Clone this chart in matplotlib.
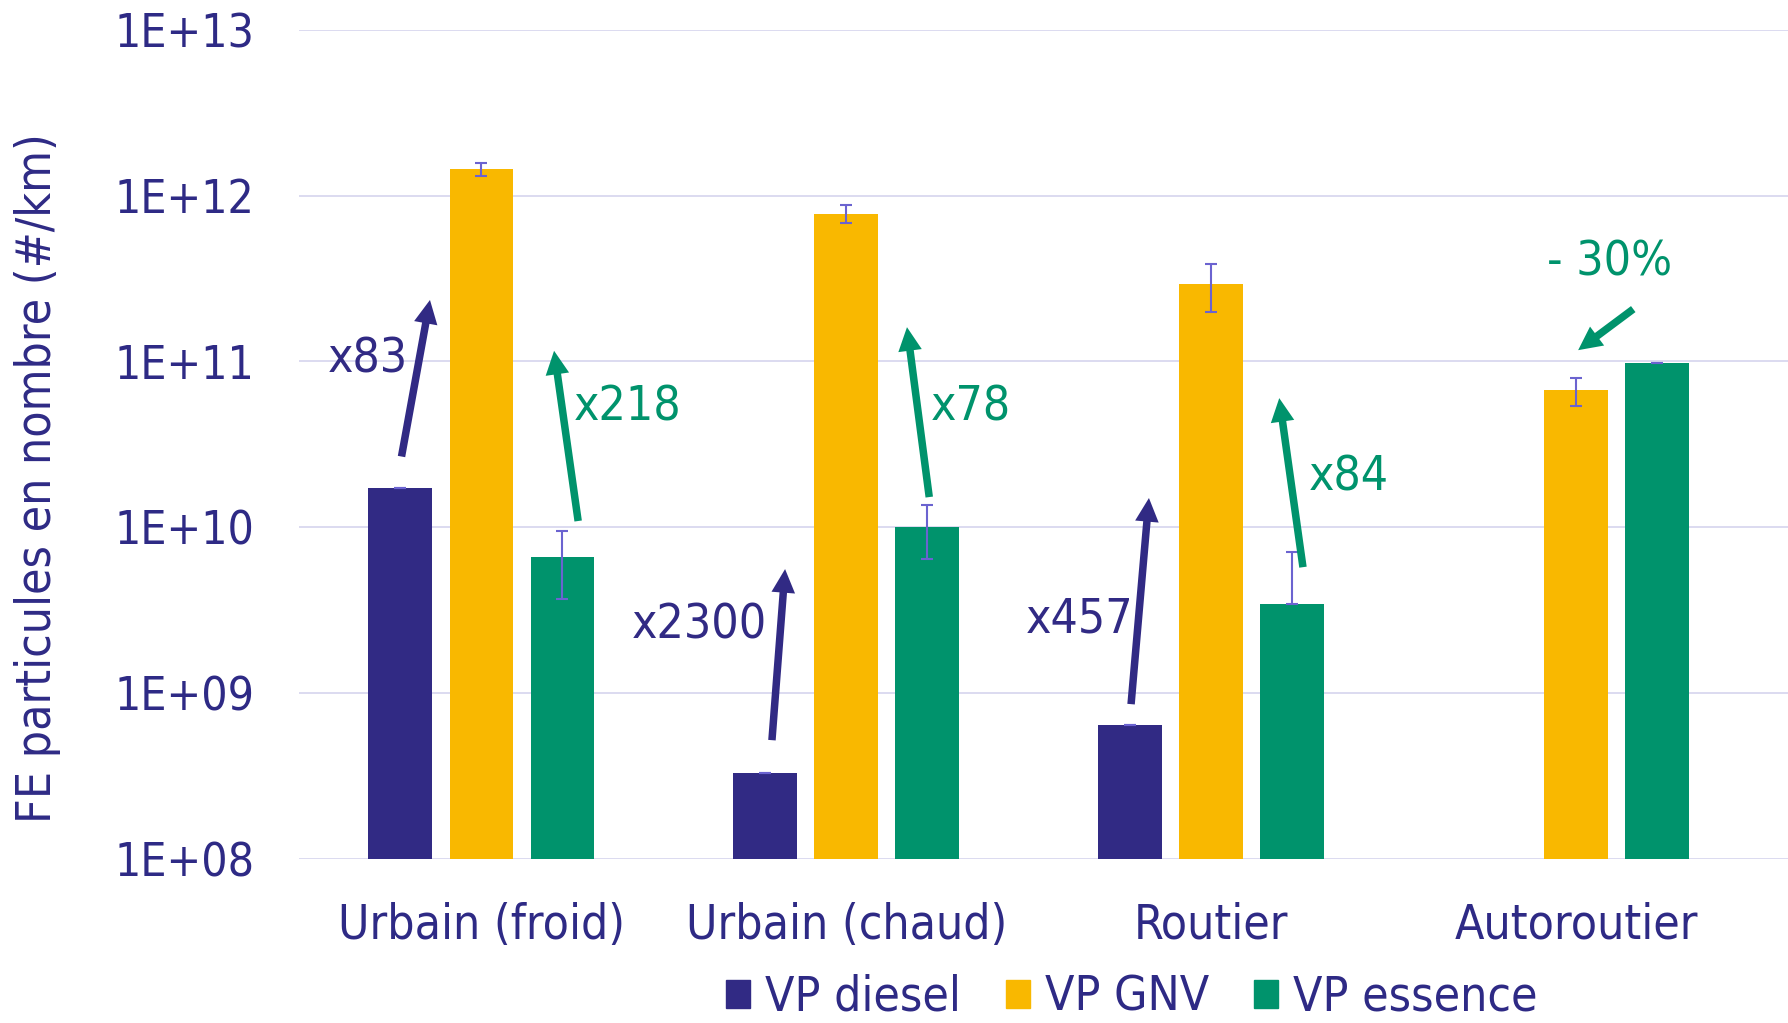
import numpy as np
import matplotlib.pyplot as plt
from matplotlib.patches import Patch

# ------------------------------------------------------------
# Data
# ------------------------------------------------------------
categories = ["Urbain (froid)", "Urbain (chaud)", "Routier", "Autoroutier"]
series = ["VP diesel", "VP GNV", "VP essence"]

diesel = [1.73e10, 3.27e8, 6.37e8, np.nan]
gnv = [1.45e12, 7.8e11, 2.93e11, 6.7e10]
essence = [6.57e9, 1.0e10, 3.44e9, 9.8e10]

diesel_err = [0.0, 0.0, 0.0, 0.0]
gnv_err = [1.3e11, 9.5e10, 9.5e10, 1.3e10]
essence_err_lo = [2.9e9, 3.6e9, 0.0, 0.0]
essence_err_hi = [2.9e9, 3.6e9, 3.6e9, 0.0]

ytick_vals = [1e8, 1e9, 1e10, 1e11, 1e12, 1e13]
ytick_labels = ["1E+08", "1E+09", "1E+10", "1E+11", "1E+12", "1E+13"]

# annotations: (text, text_x, text_y, tail_x, tail_y, tip_x, tip_y, colour key)
annotations = [
    ("x83", -0.31, 1.03e11, -0.219, 2.67e10, -0.141, 2.35e11, "diesel"),
    ("x218", 0.40, 5.3e10, 0.265, 1.09e10, 0.199, 1.16e11, "essence"),
    ("x2300", 0.596, 2.57e9, 0.796, 5.19e8, 0.832, 5.59e9, "diesel"),
    ("x78", 1.342, 5.3e10, 1.227, 1.52e10, 1.166, 1.61e11, "essence"),
    ("x457", 1.638, 2.79e9, 1.780, 8.56e8, 1.829, 1.50e10, "diesel"),
    ("x84", 2.377, 2.0e10, 2.251, 5.74e9, 2.186, 6.01e10, "essence"),
    ("- 30%", 3.09, 3.98e11, 3.156, 2.07e11, 3.005, 1.17e11, "essence"),
]

# ------------------------------------------------------------
# Style
# ------------------------------------------------------------
colors = {"diesel": "#312A84", "gnv": "#F9B800", "essence": "#00936C"}
text_color = "#2E2A85"
err_color = "#6B63D0"
grid_color = "#DCDAF0"
fs = 34.5

plt.rcParams['font.family'] = ['DejaVu Sans']
plt.rcParams['font.stretch'] = 'condensed'

fig = plt.figure(figsize=(17.88, 10.23), dpi=100)
ax = fig.add_axes([0.1672, 0.1606, 0.8328, 0.8101])

x = np.arange(len(categories))
w = 0.175
off = 0.222

ax.bar(x - off, diesel, w, color=colors["diesel"], zorder=2)
ax.bar(x, gnv, w, color=colors["gnv"], zorder=2)
ax.bar(x + off, essence, w, color=colors["essence"], zorder=2)

ekw = dict(fmt='none', ecolor=err_color, elinewidth=1.5, capsize=4.5,
           capthick=1.5, zorder=3)
ax.errorbar(x - off, diesel, yerr=diesel_err, **ekw)
ax.errorbar(x, gnv, yerr=gnv_err, **ekw)
ax.errorbar(x + off, essence, yerr=[essence_err_lo, essence_err_hi], **ekw)

ax.set_yscale('log')
ax.set_ylim(1e8, 1e13)
ax.set_xlim(-0.5, 3.58)
ax.set_yticks(ytick_vals)
ax.set_yticklabels(ytick_labels)
ax.yaxis.set_minor_locator(plt.NullLocator())
ax.set_xticks(x)
ax.set_xticklabels(categories)
ax.tick_params(axis='both', length=0, labelcolor=text_color)
ax.tick_params(axis='y', pad=32, labelsize=33.2)
ax.tick_params(axis='x', pad=31, labelsize=fs)

ax.grid(axis='y', color=grid_color, linewidth=1.4, zorder=0)
ax.set_axisbelow(True)
for s in ax.spines.values():
    s.set_visible(False)

fig.text(38 / 1788, 1 - 478 / 1023, "FE particules en nombre (#/km)",
         rotation=90, ha='center', va='center', fontsize=fs, color=text_color)

for txt, tx, ty, x0, y0, x1, y1, key in annotations:
    c = colors[key]
    ax.annotate('', xy=(x1, y1), xytext=(x0, y0),
                arrowprops=dict(arrowstyle='simple,head_length=0.85,head_width=0.85,tail_width=0.27',
                                color=c, lw=0, shrinkA=0, shrinkB=0,
                                mutation_scale=20))
    ax.text(tx, ty, txt, ha='center', va='center', fontsize=fs, color=c)

handles = [Patch(color=colors[k]) for k in ["diesel", "gnv", "essence"]]
leg = fig.legend(handles, series, loc='center', bbox_to_anchor=(0.633, 0.025),
                 ncol=3, frameon=False, fontsize=fs, handlelength=0.5,
                 handleheight=0.5, handletextpad=0.3, columnspacing=0.95,
                 borderaxespad=0)
for t in leg.get_texts():
    t.set_color(text_color)

fig.savefig("out.png", dpi=100)
